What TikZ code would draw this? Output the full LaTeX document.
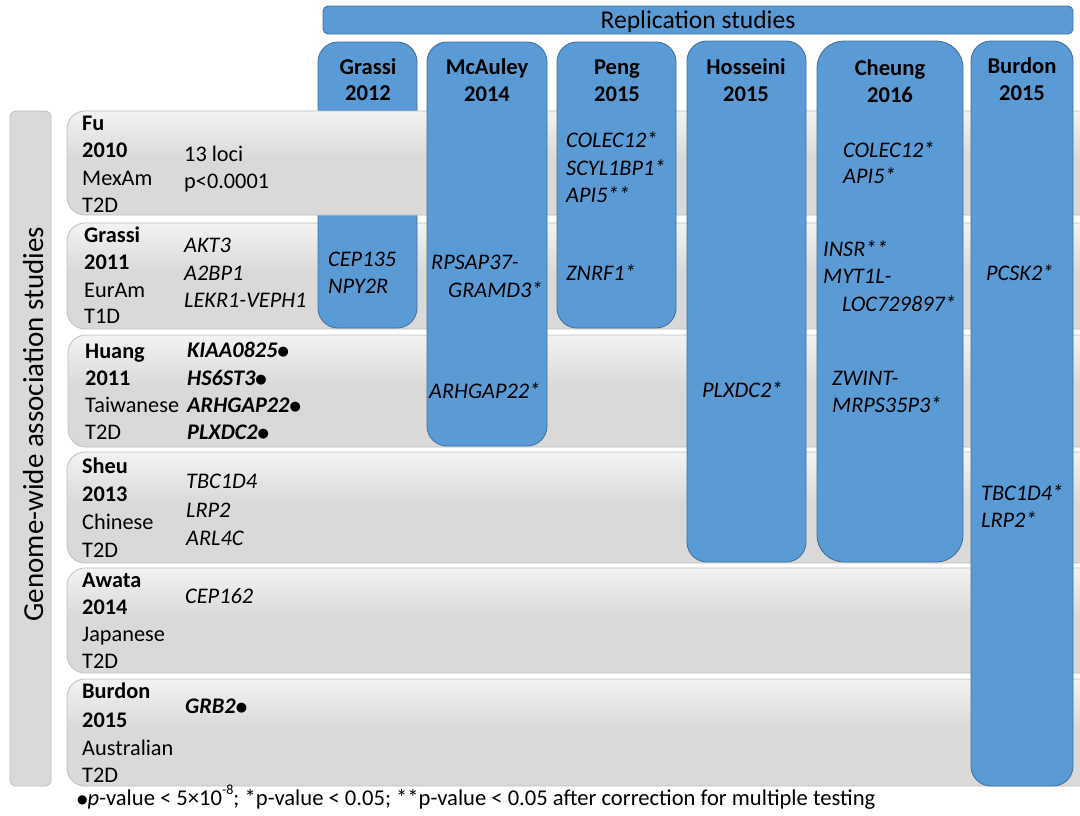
\documentclass[tikz,border=0pt]{standalone}
\usepackage{fontspec}
\setmainfont{Carlito}
\newfontfamily\dejavu{DejaVu Sans}
\definecolor{colblue}{HTML}{5B9BD5}
\definecolor{colline}{HTML}{41719C}
\definecolor{rowdark}{HTML}{D9D9D9}
\definecolor{rowlight}{HTML}{F3F3F3}
\definecolor{rowline}{HTML}{BFBFBF}
\pgfdeclareverticalshading{rowshade}{100bp}{color(0bp)=(rowdark); color(25bp)=(rowdark); color(52bp)=(rowdark); color(75bp)=(rowlight); color(100bp)=(rowlight)}
\newcommand\bul{\raisebox{1.5pt}{\dejavu\fontsize{13}{16}\selectfont ●}}
\newcommand\tl[5]{\node[#1] (#2) at (#3,#4) {#5};}
\tikzset{
  rowbox/.style={rounded corners=18pt, draw=rowline, line width=0.8pt, shade, shading=rowshade},
  colbox/.style={rounded corners=20pt, fill=colblue, draw=colline, line width=0.9pt},
  txt/.style={anchor=base west, inner sep=0pt, font=\fontsize{22.3}{27}\selectfont},
  bt/.style={txt, font=\fontsize{22.3}{27}\selectfont\bfseries},
  gene/.style={txt, font=\fontsize{22.3}{27}\selectfont\itshape},
  bgene/.style={txt, font=\fontsize{22.3}{27}\selectfont\bfseries\itshape},
  head/.style={anchor=base, inner sep=0pt, font=\fontsize{22.6}{27}\selectfont\bfseries},
}
\begin{document}
\begin{tikzpicture}[x=1pt,y=-1pt]
\useasboundingbox (0,0) rectangle (1080,815);
\clip (0,0) rectangle (1080,815);
\fill[white] (0,0) rectangle (1080,815);
% left label box
\path[rounded corners=6pt, draw=rowline, line width=0.8pt, fill=rowdark] (10,111) rectangle (51,786);
\node[rotate=90, anchor=base, inner sep=0pt, font=\fontsize{29}{34}\selectfont] (gwas) at (43,424) {Genome-wide association studies};
% rows 2-6
\path[rowbox] (67,223) rectangle (1110,329);
\path[rowbox] (68,335) rectangle (1110,447);
\path[rowbox] (67,452) rectangle (1110,563);
\path[rowbox] (67,568) rectangle (1110,673);
\path[rowbox] (67,679) rectangle (1110,786);
% Grassi column (under Fu row)
\path[colbox] (318,42) rectangle (417,328);
% Fu row
\path[rowbox] (67,111) rectangle (1110,215);
% other columns
\path[colbox] (427,42) rectangle (547,446);
\path[colbox] (557,42) rectangle (676,328);
\path[colbox] (687,41) rectangle (806,562);
\path[colbox, rounded corners=27pt] (817,41) rectangle (963,562);
\path[colbox] (971,41) rectangle (1073,786);
% banner
\path[rounded corners=5pt, fill=colblue, draw=colline, line width=0.9pt] (323,6) rectangle (1073,34);
\node[anchor=base, inner sep=0pt, font=\fontsize{25.6}{30}\selectfont] (repl) at (698,28) {Replication studies};

% column headers
\tl{head}{hGa}{368}{74}{Grassi}
\tl{head}{hGb}{368}{100}{2012}
\tl{head}{hMa}{487}{74}{McAuley}
\tl{head}{hMb}{487}{101}{2014}
\tl{head}{hPa}{617}{74}{Peng}
\tl{head}{hPb}{617}{101}{2015}
\tl{head}{hHa}{746}{74}{Hosseini}
\tl{head}{hHb}{746}{101}{2015}
\tl{head}{hCa}{890}{75}{Cheung}
\tl{head}{hCb}{890}{102}{2016}
\tl{head}{hBa}{1022}{73}{Burdon}
\tl{head}{hBb}{1022}{100}{2015}

% Fu row
\tl{bt}{fu1}{82}{130}{Fu}
\tl{bt}{fu2}{82}{157}{2010}
\tl{txt}{fu3}{82}{185}{MexAm}
\tl{txt}{fu4}{82}{212}{T2D}
\tl{txt}{fug1}{184}{161}{13 loci}
\tl{txt}{fug2}{184}{188}{p<0.0001}
% Grassi row
\tl{bt}{gr1}{84}{242}{Grassi}
\tl{bt}{gr2}{84}{269}{2011}
\tl{txt}{gr3}{84}{297}{EurAm}
\tl{txt}{gr4}{84}{323}{T1D}
\tl{gene}{grg1}{184}{252}{AKT3}
\tl{gene}{grg2}{184}{280}{A2BP1}
\tl{gene}{grg3}{184}{307}{LEKR1-VEPH1}
% Huang row
\tl{bt}{hu1}{85}{358}{Huang}
\tl{bt}{hu2}{85}{385}{2011}
\tl{txt}{hu3}{85}{412}{Taiwanese}
\tl{txt}{hu4}{85}{439}{T2D}
\tl{bgene}{hug1}{187}{357}{KIAA0825\bul}
\tl{bgene}{hug2}{187}{385}{HS6ST3\bul}
\tl{bgene}{hug3}{187}{412}{ARHGAP22\bul}
\tl{bgene}{hug4}{187}{439}{PLXDC2\bul}
% Sheu row
\tl{bt}{sh1}{82}{473}{Sheu}
\tl{bt}{sh2}{82}{501}{2013}
\tl{txt}{sh3}{82}{529}{Chinese}
\tl{txt}{sh4}{82}{557}{T2D}
\tl{gene}{shg1}{186}{488}{TBC1D4}
\tl{gene}{shg2}{186}{517}{LRP2}
\tl{gene}{shg3}{186}{545}{ARL4C}
% Awata row
\tl{bt}{aw1}{82}{587}{Awata}
\tl{bt}{aw2}{82}{614}{2014}
\tl{txt}{aw3}{82}{641}{Japanese}
\tl{txt}{aw4}{82}{668}{T2D}
\tl{gene}{awg1}{185}{603}{CEP162}
% Burdon row
\tl{bt}{bu1}{82}{698}{Burdon}
\tl{bt}{bu2}{82}{727}{2015}
\tl{txt}{bu3}{82}{755}{Australian}
\tl{txt}{bu4}{82}{782}{T2D}
\tl{bgene}{bug1}{185}{713}{GRB2\bul}

% column genes
\tl{gene}{cg1}{328}{266}{CEP135}
\tl{gene}{cg2}{328}{293}{NPY2R}
\tl{gene}{cm1}{431}{269}{RPSAP37-}
\tl{gene}{cm2}{448}{297}{GRAMD3*}
\tl{gene}{cm3}{429}{398}{ARHGAP22*}
\tl{gene}{cp1}{566}{147}{COLEC12*}
\tl{gene}{cp2}{566}{175}{SCYL1BP1*}
\tl{gene}{cp3}{566}{202}{API5**}
\tl{gene}{cp4}{566}{280}{ZNRF1*}
\tl{gene}{ch1}{702}{397}{PLXDC2*}
\tl{gene}{cc1}{843}{157}{COLEC12*}
\tl{gene}{cc2}{843}{183}{API5*}
\tl{gene}{cc3}{823}{256}{INSR**}
\tl{gene}{cc4}{823}{283}{MYT1L-}
\tl{gene}{cc5}{842}{311}{LOC729897*}
\tl{gene}{cc6}{832}{385}{ZWINT-}
\tl{gene}{cc7}{832}{412}{MRPS35P3*}
\tl{gene}{cb1}{986}{280}{PCSK2*}
\tl{gene}{cb2}{981}{500}{TBC1D4*}
\tl{gene}{cb3}{981}{527}{LRP2*}

% footnote
\node[anchor=base west, inner sep=0pt, font=\fontsize{22.6}{26}\selectfont] (foot) at (77,805)
  {\raisebox{1.5pt}{\dejavu\fontsize{12}{16}\selectfont ●}\textit{p}-value < 5×10\raisebox{0.45em}{\fontsize{14}{16}\selectfont -8}; *p-value < 0.05; **p-value < 0.05 after correction for multiple testing};
\end{tikzpicture}
\end{document}
